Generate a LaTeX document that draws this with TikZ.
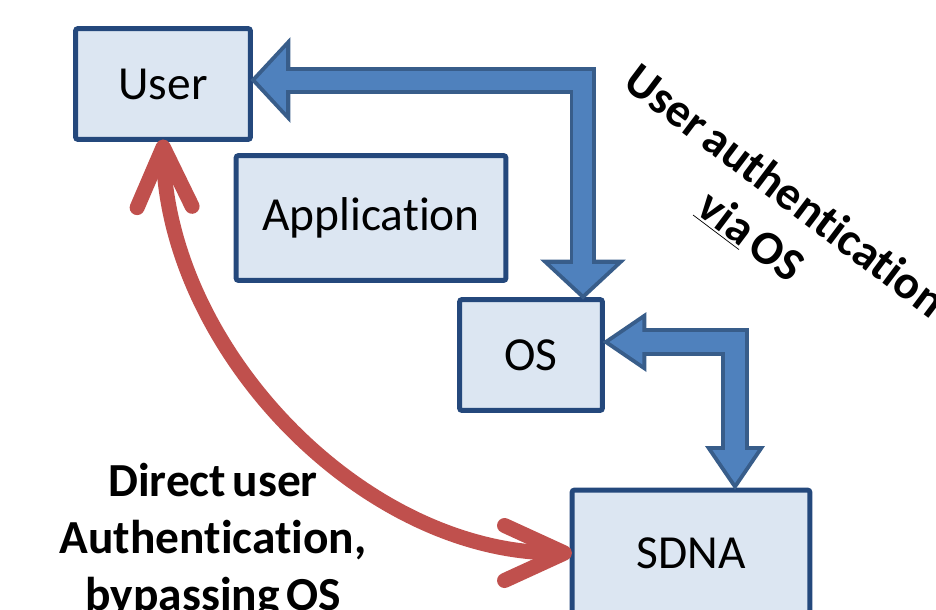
\documentclass[tikz,border=0pt]{standalone}
\usepackage{fontspec}
\setmainfont{Carlito}[WordSpace=0.6,RawFeature={-liga;-clig;-calt;-dlig}]
\usetikzlibrary{arrows.meta}
\definecolor{boxline}{RGB}{36,72,124}
\definecolor{boxfill}{RGB}{220,230,242}
\definecolor{arrowfill}{RGB}{79,129,189}
\definecolor{arrowline}{RGB}{56,93,138}
\definecolor{authred}{RGB}{192,80,77}
\tikzset{
  box/.style={draw=boxline,fill=boxfill,line width=0.1cm,rounded corners=1.5pt,
    inner sep=0pt,outer sep=0pt,font=\fontsize{27}{33}\selectfont},
  note/.style={font=\bfseries\fontsize{27}{32.3}\selectfont,align=center},
  blockout/.style n args={3}{draw=arrowline,line width=#1,
    arrows={Triangle[width=#2,length=#3,line width=0pt]-Triangle[width=#2,length=#3,line width=0pt]}},
  blockin/.style n args={4}{draw=arrowfill,line width=#1,shorten <=#4,shorten >=#4,
    arrows={Triangle[width=#2,length=#3,line width=0pt]-Triangle[width=#2,length=#3,line width=0pt]}},
  barb/.style={draw=authred,line width=0.3cm,
    arrows={Straight Barb[length=1.2cm,width=1.1cm,round]-Straight Barb[length=1.2cm,width=1.1cm,round]}}
}
\begin{document}
\begin{tikzpicture}[x=0.02cm,y=-0.02cm]
  \useasboundingbox (0,0) rectangle (936,609);
  \clip (0,0) rectangle (936,609);
  \node[box,minimum width=3.5cm,minimum height=2.22cm] (user) at (163,84) {User};
  \node[box,minimum width=5.4cm,minimum height=2.5cm] (app) at (371,218) {Application};
  \node[box,minimum width=2.86cm,minimum height=2.22cm] (os) at (531,355) {OS};
  \node[box,minimum width=4.76cm,minimum height=2.52cm] (sdna) at (691,553) {SDNA};
  \coordinate (ostop) at ([xshift=1.04cm]os.north);
  \coordinate (userin) at ([yshift=0.08cm]user.east);
  \coordinate (sdnatop) at ([xshift=0.88cm]sdna.north);
  \coordinate (osin) at ([yshift=0.26cm]os.east);
  \draw[blockout={0.54cm}{1.72cm}{0.8cm}] (ostop) |- (userin);
  \draw[blockin={0.38cm}{1.3cm}{0.6cm}{0.11cm}] (ostop) |- (userin);
  \draw[blockout={0.56cm}{1.2cm}{0.88cm}] (sdnatop) |- (osin);
  \draw[blockin={0.4cm}{0.9cm}{0.66cm}{0.14cm}] (sdnatop) |- (osin);
  \draw[barb] (user.south) .. controls +(5,210) and +(-210,0) .. (sdna.west);
  \node[note] (direct) at (213,541) {Direct user\\Authentication,\\bypassing OS};
  \node[note,rotate=-37] (viaos) at (768,214) {User authentication\\\underline{via} OS};
\end{tikzpicture}
\end{document}
